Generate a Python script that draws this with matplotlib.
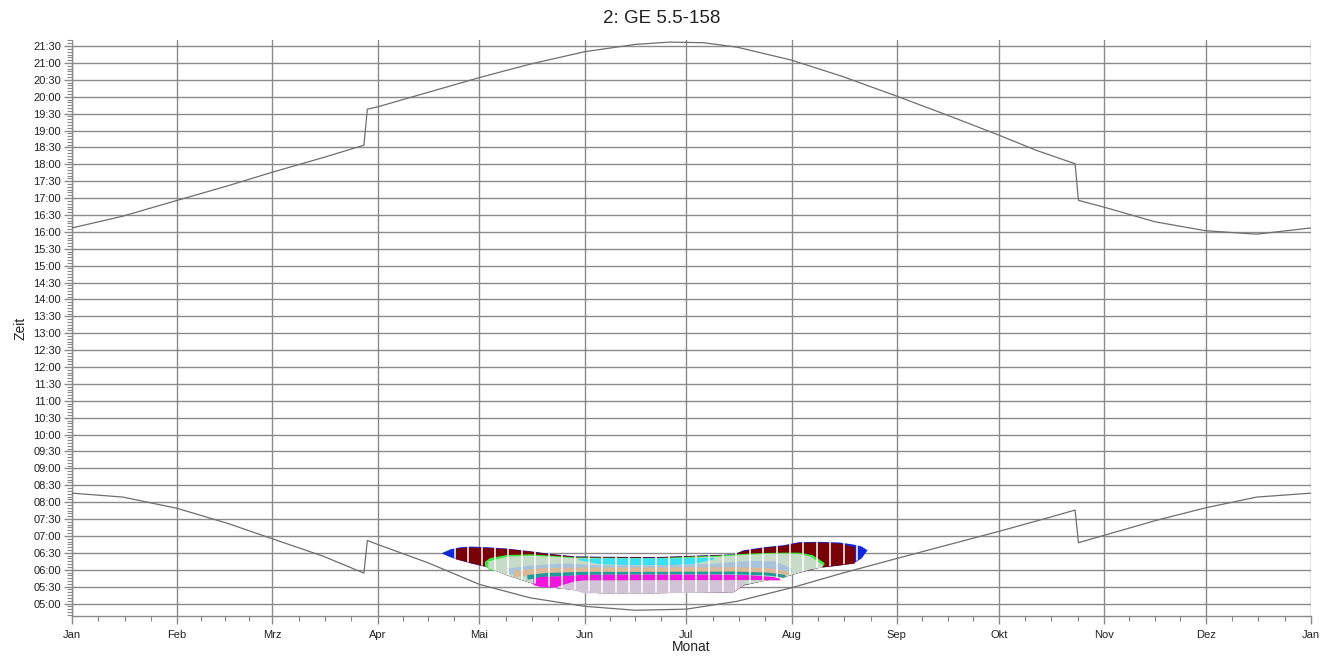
import numpy as np
import matplotlib.pyplot as plt
from matplotlib.ticker import FixedLocator, MultipleLocator

plt.rcParams['font.family'] = ['Liberation Sans', 'DejaVu Sans']


def hm(t):
    h, m = t.split(':')
    return int(h) + int(m) / 60


months = ['Jan', 'Feb', 'Mrz', 'Apr', 'Mai', 'Jun', 'Jul', 'Aug', 'Sep', 'Okt', 'Nov', 'Dez', 'Jan']
month_start = [0, 31, 59, 90, 120, 151, 181, 212, 243, 273, 304, 334, 365]

# sunrise (lower line), day of year -> local time
rise_day = [0, 15, 31, 46, 59, 74, 86, 87, 90, 105, 120, 135, 151, 166, 181, 196,
            212, 227, 243, 258, 273, 288, 295.5, 296.5, 304, 319, 334, 349, 365]
rise_time = ['08:16', '08:09', '07:49', '07:22', '06:55', '06:24', '05:54', '06:52', '06:45',
             '06:12', '05:34', '05:10', '04:55', '04:48', '04:50', '05:04', '05:28', '05:54',
             '06:20', '06:44', '07:08', '07:33', '07:46', '06:48', '07:01', '07:27', '07:50',
             '08:09', '08:16']

# sunset (upper line)
set_day = [0, 15, 31, 46, 59, 74, 86, 87, 90, 105, 120, 135, 151, 166, 176, 186, 196,
           212, 227, 243, 258, 273, 284, 295.5, 296.5, 304, 319, 334, 349, 365]
set_time = ['16:07', '16:28', '16:56', '17:22', '17:46', '18:12', '18:34', '19:38', '19:42',
            '20:08', '20:34', '20:58', '21:20', '21:33', '21:37', '21:36', '21:28', '21:05',
            '20:36', '20:01', '19:27', '18:52', '18:25', '18:01', '16:56', '16:44', '16:18',
            '16:02', '15:56', '16:07']

# shadow flicker areas (day of year, upper / lower time in hours)
blue_day = [108.7, 111.4, 114.3, 117.3, 122.3, 128, 135, 141, 148, 155, 172, 194.8,
            197.7, 203.6, 209.5, 214, 220, 226, 230.1, 232.5, 234.2]
blue_top = [6.50, 6.62, 6.68, 6.70, 6.68, 6.64, 6.56, 6.48, 6.41, 6.40, 6.39, 6.47,
            6.59, 6.68, 6.74, 6.83, 6.84, 6.82, 6.76, 6.70, 6.59]
blue_bot = [6.50, 6.38, 6.29, 6.20, 6.09, 5.85, 5.62, 5.49, 5.41, 5.32, 5.32, 5.35,
            5.55, 5.68, 5.79, 5.92, 6.07, 6.14, 6.20, 6.35, 6.59]

red_day = [113, 117, 122, 128, 135, 141, 148, 155, 172, 194.8, 197.7, 203.6, 209.5,
           214, 220, 226, 230.5]
red_top = [6.64, 6.67, 6.66, 6.63, 6.55, 6.47, 6.40, 6.39, 6.38, 6.46, 6.57, 6.66, 6.72,
           6.81, 6.82, 6.79, 6.68]
red_bot = [6.32, 6.22, 6.09, 5.85, 5.62, 5.49, 5.41, 5.32, 5.32, 5.35, 5.55, 5.68, 5.79,
           5.92, 6.07, 6.14, 6.20]

green_day = [121.5, 123, 128, 135, 141, 148, 155, 172, 190, 197, 204, 209.5, 214, 218, 221.5]
green_top = [6.25, 6.36, 6.45, 6.47, 6.43, 6.38, 6.37, 6.36, 6.43, 6.48, 6.51, 6.52, 6.52,
             6.45, 6.22]
green_bot = [6.12, 6.00, 5.95, 5.72, 5.58, 5.50, 5.42, 5.42, 5.45, 5.64, 5.78, 5.88, 6.00,
             6.08, 6.14]

pale_day = [122.5, 128, 135, 141, 148, 155, 172, 190, 197, 204, 209.5, 214, 217.5, 221]
pale_top = [6.26, 6.40, 6.43, 6.40, 6.36, 6.35, 6.34, 6.40, 6.45, 6.48, 6.49, 6.48, 6.40, 6.16]
pale_bot = [6.06, 5.85, 5.62, 5.49, 5.41, 5.32, 5.32, 5.35, 5.55, 5.68, 5.79, 5.92, 6.02, 6.08]

cyan_day = [149, 155, 165, 175, 183, 189]
cyan_top = [6.34, 6.35, 6.35, 6.35, 6.36, 6.37]
cyan_bot = [6.30, 6.18, 6.15, 6.15, 6.18, 6.32]

steel_day = [128, 135, 145, 155, 172, 190, 200, 207, 212]
steel_top = [6.05, 6.14, 6.20, 6.15, 6.14, 6.20, 6.28, 6.26, 6.05]
steel_bot = [5.90, 5.80, 5.75, 5.78, 5.80, 5.80, 5.85, 5.90, 5.98]

tan_day = [130, 138, 150, 172, 195, 205, 211]
tan_top = [5.98, 6.06, 6.08, 6.08, 6.09, 6.06, 5.96]
tan_bot = [5.80, 5.85, 5.92, 5.94, 5.94, 5.90, 5.85]

teal_day = [134, 140, 150, 172, 195, 205, 210]
teal_top = [5.86, 5.92, 5.95, 5.95, 5.96, 5.93, 5.86]
teal_bot = [5.72, 5.80, 5.86, 5.88, 5.88, 5.84, 5.78]

pink_day = [135.8, 138, 145, 150, 160, 172, 190, 200, 206.5, 208.5]
pink_top = [5.76, 5.80, 5.83, 5.86, 5.87, 5.87, 5.87, 5.85, 5.80, 5.74]
pink_bot = [5.56, 5.50, 5.48, 5.60, 5.68, 5.70, 5.70, 5.71, 5.70, 5.70]

lilac_day = [143, 147.6, 150.6, 160, 172, 185, 194.8, 197.7]
lilac_top = [5.52, 5.66, 5.70, 5.70, 5.70, 5.70, 5.70, 5.66]
lilac_bot = [5.48, 5.41, 5.32, 5.32, 5.32, 5.33, 5.35, 5.55]

layers = [
    (blue_day, blue_top, blue_bot, '#1028d8'),
    (red_day, red_top, red_bot, '#7a0008'),
    (green_day, green_top, green_bot, '#3ce83c'),
    (pale_day, pale_top, pale_bot, '#c6dcc8'),
    (cyan_day, cyan_top, cyan_bot, '#3ae0f4'),
    (steel_day, steel_top, steel_bot, '#a9c3dc'),
    (tan_day, tan_top, tan_bot, '#dcb996'),
    (teal_day, teal_top, teal_bot, '#1f9c98'),
    (pink_day, pink_top, pink_bot, '#f216de'),
    (lilac_day, lilac_top, lilac_bot, '#d3c3d6'),
]

grid_col = '#8a8a8a'
text_col = '#222222'

fig = plt.figure(figsize=(13.31, 6.57), dpi=100)
ax = fig.add_axes([72 / 1331, 1 - 616 / 657, (1311 - 72) / 1331, (616 - 40) / 657])

# month / half-hour grid
for d in month_start:
    ax.axvline(d, color=grid_col, lw=1.0, zorder=1)
yt = np.arange(5.0, 21.51, 0.5)
for y in yt:
    ax.axhline(y, color=grid_col, lw=1.0, zorder=1)

# shadow areas
env = None
for d, top, bot, col in layers:
    p = ax.fill_between(d, bot, top, color=col, lw=0, zorder=2)
    if env is None:
        env = p
stripes = ax.vlines(np.arange(108.8, 236, 3.95), 5.0, 7.0, colors='white', lw=1.1, zorder=3)
stripes.set_clip_path(env.get_paths()[0], ax.transData)

# sunrise / sunset
ax.plot(rise_day, [hm(t) for t in rise_time], color='#6e6e6e', lw=0.9, zorder=4)
ax.plot(set_day, [hm(t) for t in set_time], color='#6e6e6e', lw=0.9, zorder=4)

ax.set_xlim(0, 365)
ax.set_ylim(4.63, 21.68)

ax.xaxis.set_major_locator(FixedLocator(month_start))
ax.set_xticklabels(months)
quarters = []
for a, b in zip(month_start[:-1], month_start[1:]):
    quarters += [a + (b - a) * k / 4 for k in (1, 2, 3)]
ax.xaxis.set_minor_locator(FixedLocator(quarters))

ax.yaxis.set_major_locator(FixedLocator(yt))
ax.set_yticklabels(['%02d:%02d' % (int(v), round((v % 1) * 60)) for v in yt])
ax.yaxis.set_minor_locator(MultipleLocator(5 / 60))

for s in ('top', 'right'):
    ax.spines[s].set_visible(False)
for s in ('left', 'bottom'):
    ax.spines[s].set_color(grid_col)
    ax.spines[s].set_linewidth(1.0)
ax.spines['left'].set_bounds(4.63, 21.5)

ax.tick_params(axis='both', which='major', colors=grid_col, labelcolor=text_col,
               labelsize=8, length=6, width=1.0)
ax.tick_params(axis='both', which='minor', colors=grid_col, length=3.5, width=0.8)
ax.tick_params(axis='x', pad=4)
ax.tick_params(axis='y', pad=2)

ax.set_xlabel('Monat', fontsize=10, color=text_col, labelpad=0)
ax.set_ylabel('Zeit', fontsize=10, color=text_col, labelpad=4)
fig.text(0.497, 0.972, '2: GE 5.5-158', ha='center', va='center', fontsize=13.5, color=text_col)

fig.savefig('out.png', dpi=100, facecolor='white')
